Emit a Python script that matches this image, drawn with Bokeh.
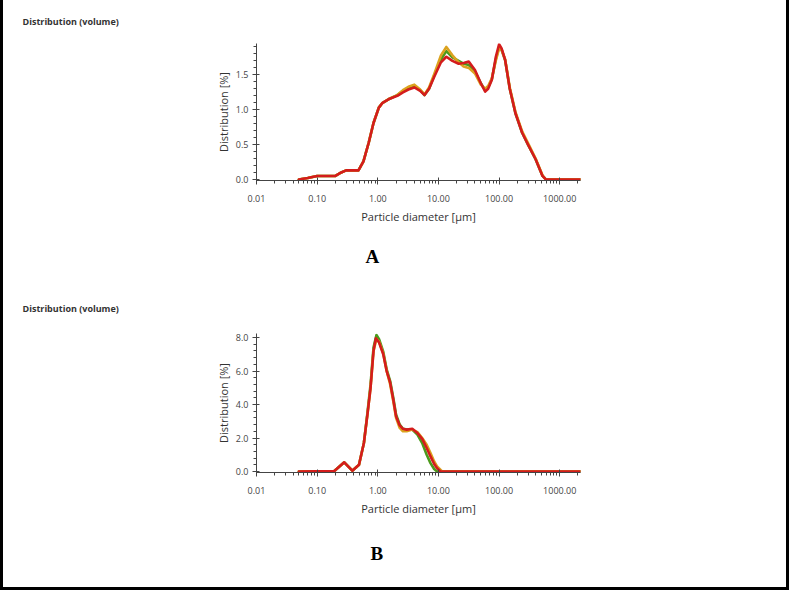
from bokeh.plotting import figure
from bokeh.models import FixedTicker, Title, NumeralTickFormatter
from bokeh.layouts import column
from bokeh.embed import file_html
from bokeh.resources import INLINE

# ---------------- data ----------------
# Panel A: particle size distribution (volume %), three measurements
a_green_d = [0.05, 0.07, 0.1, 0.2, 0.25, 0.3, 0.48, 0.58, 0.71, 0.85, 1.04, 1.2, 1.5, 2.1, 2.6, 3.2, 4.0, 5.0, 5.9, 7.0, 8.6, 11, 13.5, 17, 21.5, 26, 31.6, 40, 50, 59, 66, 76, 88, 100, 110, 126, 150, 186, 240, 300, 400, 520, 590, 2200]
a_green_v = [0.0, 0.02, 0.05, 0.05, 0.1, 0.13, 0.13, 0.26, 0.53, 0.81, 1.03, 1.1, 1.15, 1.21, 1.27, 1.31, 1.34, 1.28, 1.21, 1.3, 1.5, 1.72, 1.84, 1.75, 1.70, 1.66, 1.64, 1.55, 1.38, 1.28, 1.32, 1.44, 1.72, 1.90, 1.86, 1.71, 1.3, 0.95, 0.67, 0.5, 0.29, 0.05, 0.0, 0.0]
a_orange_d = a_green_d
a_orange_v = [0.0, 0.02, 0.05, 0.05, 0.1, 0.13, 0.13, 0.26, 0.53, 0.81, 1.03, 1.1, 1.15, 1.21, 1.28, 1.33, 1.36, 1.29, 1.22, 1.32, 1.52, 1.78, 1.90, 1.78, 1.68, 1.62, 1.60, 1.52, 1.36, 1.30, 1.34, 1.45, 1.70, 1.88, 1.86, 1.72, 1.32, 0.97, 0.69, 0.52, 0.30, 0.06, 0.0, 0.0]
a_red_d = a_green_d
a_red_v = [0.0, 0.02, 0.05, 0.05, 0.1, 0.13, 0.13, 0.26, 0.53, 0.81, 1.03, 1.1, 1.15, 1.2, 1.25, 1.29, 1.32, 1.27, 1.21, 1.3, 1.48, 1.68, 1.76, 1.70, 1.66, 1.67, 1.69, 1.57, 1.38, 1.26, 1.30, 1.43, 1.75, 1.94, 1.88, 1.71, 1.3, 0.95, 0.67, 0.5, 0.29, 0.05, 0.0, 0.0]

# Panel B
b_green_d = [0.05, 0.19, 0.28, 0.38, 0.49, 0.59, 0.68, 0.76, 0.85, 0.95, 1.05, 1.23, 1.4, 1.6, 1.8, 2.0, 2.3, 2.6, 3.0, 3.7, 4.5, 5.4, 6.4, 7.4, 8.5, 9.5, 2200]
b_green_v = [0.0, 0.02, 0.55, 0.05, 0.4, 1.7, 3.6, 5.2, 7.4, 8.15, 7.9, 7.15, 6.1, 5.4, 4.4, 3.4, 2.8, 2.55, 2.5, 2.5, 2.2, 1.7, 1.0, 0.5, 0.15, 0.0, 0.0]
b_orange_d = [0.05, 0.19, 0.28, 0.38, 0.49, 0.59, 0.68, 0.76, 0.85, 0.95, 1.05, 1.23, 1.4, 1.6, 1.8, 2.0, 2.3, 2.6, 3.0, 3.7, 4.5, 5.4, 6.4, 7.4, 8.5, 9.5, 11.5, 2200]
b_orange_v = [0.0, 0.02, 0.55, 0.05, 0.4, 1.7, 3.5, 5.0, 7.2, 7.9, 7.75, 7.05, 6.0, 5.2, 4.2, 3.2, 2.6, 2.4, 2.4, 2.5, 2.35, 2.0, 1.6, 1.1, 0.6, 0.3, 0.0, 0.0]
b_red_d = [0.05, 0.19, 0.28, 0.38, 0.49, 0.59, 0.68, 0.76, 0.85, 0.93, 1.05, 1.23, 1.4, 1.6, 1.8, 2.0, 2.3, 2.6, 3.0, 3.7, 4.5, 5.4, 6.4, 7.4, 8.5, 9.5, 10.8, 2200]
b_red_v = [0.0, 0.02, 0.55, 0.05, 0.4, 1.7, 3.5, 5.0, 7.2, 7.95, 7.7, 7.0, 6.0, 5.3, 4.3, 3.3, 2.75, 2.55, 2.5, 2.55, 2.3, 1.95, 1.4, 0.9, 0.45, 0.2, 0.0, 0.0]

x_ticks = [0.01, 0.1, 1, 10, 100, 1000]
a_y_ticks = [0.0, 0.5, 1.0, 1.5]
b_y_ticks = [0.0, 2.0, 4.0, 6.0, 8.0]

GREEN = "#4c9a1c"
ORANGE = "#dba21e"
RED = "#d41c1c"
FONT = "Open Sans"
FIG_W = 783


def make_panel(series, y_range, y_ticks, y_minor, height, top, bottom, letter,
               title_standoff, letter_offset, letter_standoff, yfmt):
    p = figure(width=FIG_W, height=height, x_axis_type="log", x_range=(0.01, 2200), y_range=y_range,
               output_backend="svg", toolbar_location=None,
               min_border_left=253, min_border_right=206, min_border_top=top, min_border_bottom=bottom)
    p.outline_line_color = None
    p.grid.visible = False
    p.background_fill_color = "white"
    p.border_fill_color = "white"
    for d, v, c in series:
        p.line(d, v, line_color=c, line_width=2.6, line_join="round", line_cap="round")

    minor_x = [k * 10.0 ** e for e in range(-2, 4) for k in range(2, 10)]
    p.xaxis.ticker = FixedTicker(ticks=x_ticks, minor_ticks=minor_x)
    p.xaxis.formatter = NumeralTickFormatter(format="0.00")
    p.yaxis.ticker = FixedTicker(ticks=y_ticks, minor_ticks=y_minor)
    p.yaxis.formatter = NumeralTickFormatter(format=yfmt)
    p.xaxis.axis_label = "Particle diameter [µm]"
    p.yaxis.axis_label = "Distribution [%]"
    for ax in (p.xaxis, p.yaxis):
        ax.axis_line_color = "#444444"
        ax.axis_line_width = 1
        ax.major_tick_line_color = "#444444"
        ax.minor_tick_line_color = "#444444"
        ax.major_tick_in = 3
        ax.major_tick_out = 4
        ax.minor_tick_in = 0
        ax.minor_tick_out = 3
        ax.major_label_text_font = FONT
        ax.major_label_text_font_size = "9px"
        ax.major_label_text_color = "#444444"
        ax.axis_label_text_font = FONT
        ax.axis_label_text_font_size = "11px"
        ax.axis_label_text_font_style = "normal"
        ax.axis_label_text_color = "#333333"
    p.xaxis.major_label_standoff = 10
    p.xaxis.axis_label_standoff = 4
    p.yaxis.major_label_standoff = 4
    p.yaxis.axis_label_standoff = 2

    p.add_layout(Title(text="Distribution (volume)", align="left", offset=-234, standoff=title_standoff,
                       vertical_align="top",
                       text_font=FONT, text_font_size="9px", text_font_style="bold",
                       text_color="#333333"), "above")
    p.add_layout(Title(text=letter, align="left", offset=letter_offset, standoff=letter_standoff,
                       text_font="Liberation Serif", text_font_size="19px", text_font_style="bold",
                       text_color="black"), "below")
    return p


# panel A: page rows 0..285, frame 43..180 ; panel B: page rows 285..587, frame 332..472
pa = make_panel([(a_green_d, a_green_v, GREEN), (a_orange_d, a_orange_v, ORANGE), (a_red_d, a_red_v, RED)],
                (-0.015, 1.95), a_y_ticks, [i * 0.1 for i in range(20)], 285, 43, 105, "A",
                28, 109, 35, "0.0")
pb = make_panel([(b_green_d, b_green_v, GREEN), (b_orange_d, b_orange_v, ORANGE), (b_red_d, b_red_v, RED)],
                (-0.06, 8.24), b_y_ticks, [i * 0.4 for i in range(21)], 302, 47, 115, "B",
                33, 114, 45, "0.0")

layout = column(pa, pb, spacing=0,
                styles={"border-left": "3px solid black", "border-right": "3px solid black",
                        "border-bottom": "3px solid black", "background-color": "white"})

open("out.html", "w").write(file_html(layout, INLINE))
